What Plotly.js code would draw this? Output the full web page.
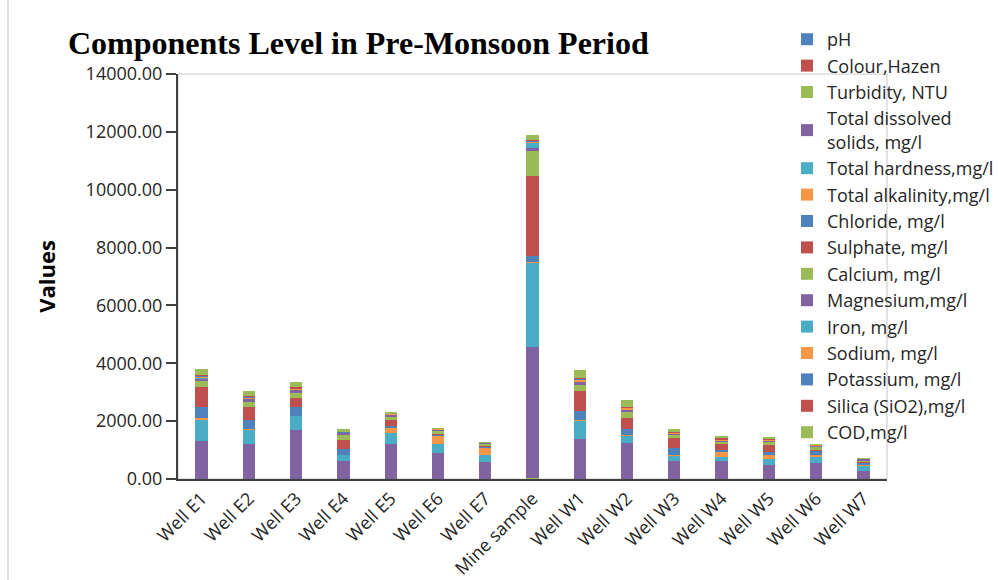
<!DOCTYPE html>
<html>
<head>
<meta charset="utf-8">
<script src="https://cdn.plot.ly/plotly-3.0.1.min.js"></script>
<style>
html,body{margin:0;padding:0;background:#fff;}
#chart{width:998px;height:580px;}
</style>
</head>
<body>
<div id="chart"></div>
<script>
const categories = ["Well E1","Well E2","Well E3","Well E4","Well E5","Well E6","Well E7","Mine sample","Well W1","Well W2","Well W3","Well W4","Well W5","Well W6","Well W7"];

const seriesNames = ["pH","Colour,Hazen","Turbidity, NTU","Total dissolved<br>solids, mg/l","Total hardness,mg/l","Total alkalinity,mg/l","Chloride, mg/l","Sulphate, mg/l","Calcium, mg/l","Magnesium,mg/l","Iron, mg/l","Sodium, mg/l","Potassium, mg/l","Silica (SiO2),mg/l","COD,mg/l"];

const pH          = [7.2,7.4,7.1,7.3,7.5,7.6,7.4,6.8,7.2,7.3,7.4,7.5,7.3,7.6,7.4];
const colour      = [5,5,5,5,5,5,5,10,5,5,5,5,5,5,5];
const turbidity   = [2,3,2,1,2,2,1,8,2,3,2,1,2,1,1];
const tds         = [1300,1200,1690,600,1190,880,560,4540,1370,1230,620,600,480,540,250];
const hardness    = [720,490,460,200,390,330,260,2910,630,250,170,150,200,200,190];
const alkalinity  = [60,40,30,30,180,250,230,10,20,20,40,170,130,60,20];
const chloride    = [380,290,290,190,60,40,30,230,330,230,230,70,120,140,90];
const sulphate    = [690,450,310,330,200,50,40,2760,690,380,340,200,230,60,30];
const calcium     = [220,190,180,150,120,90,65,860,200,180,100,80,100,90,45];
const magnesium   = [90,100,90,60,50,50,30,120,100,90,50,40,40,50,40];
const iron        = [2,1,1,1,1,1,1,150,1,1,1,1,1,1,1];
const sodium      = [60,40,50,30,40,20,10,60,80,50,30,30,30,20,10];
const potassium   = [10,8,10,5,5,5,3,20,20,10,10,10,5,5,3];
const silica      = [40,30,40,20,10,10,5,20,50,40,20,40,20,10,5];
const cod         = [220,200,200,110,40,30,20,180,260,220,120,80,70,30,20];

const seriesValues = [pH,colour,turbidity,tds,hardness,alkalinity,chloride,sulphate,calcium,magnesium,iron,sodium,potassium,silica,cod];
const palette = ["#4F81BD","#C0504D","#9BBB59","#8064A2","#4BACC6","#F79646"];

const FONT = "'Open Sans', Lato, sans-serif";

const traces = seriesNames.map((name, i) => ({
  type: "bar",
  name: name,
  x: categories,
  y: seriesValues[i],
  marker: {color: palette[i % palette.length], line: {width: 0}}
}));

const L = 178, R = 111, T = 74, B = 101, W = 998, H = 580;
const pw = W - L - R, ph = H - T - B;

const layout = {
  width: W, height: H,
  margin: {l: L, r: R, t: T, b: B, pad: 0, autoexpand: false},
  paper_bgcolor: "#ffffff",
  plot_bgcolor: "#ffffff",
  barmode: "stack",
  bargap: 0.74,
  font: {family: FONT, size: 18, color: "#262626"},
  title: {
    text: "Components Level in Pre-Monsoon Period",
    font: {family: "'Liberation Serif', 'Times New Roman', serif", size: 32, weight: "bold", color: "#000000"},
    xref: "container", yref: "container",
    x: 68 / W, xanchor: "left",
    y: 1 - 43 / H, yanchor: "middle"
  },
  xaxis: {
    type: "category",
    tickangle: -45,
    showline: true, linecolor: "#404040", linewidth: 2,
    ticks: "", showgrid: false, zeroline: false,
    tickfont: {family: FONT, size: 18, color: "#262626"}
  },
  yaxis: {
    range: [0, 14000],
    dtick: 2000,
    tickformat: ".2f",
    showgrid: false, zeroline: false,
    showline: true, linecolor: "#404040", linewidth: 2,
    ticks: "outside", ticklen: 10, tickwidth: 2, tickcolor: "#404040",
    tickfont: {family: FONT, size: 18, color: "#262626"},
    title: {text: "Values", font: {family: FONT, size: 22, weight: "bold", color: "#000000"}, standoff: 24}
  },
  legend: {
    x: (787 - L) / pw, y: (H - B - 21) / ph,
    xanchor: "left", yanchor: "top",
    traceorder: "normal",
    maxheight: 560,
    bgcolor: "rgba(0,0,0,0)",
    font: {family: FONT, size: 18, color: "#262626"}
  },
  shapes: [
    {type: "rect", xref: "paper", yref: "paper", x0: 0, x1: 1, y0: 0, y1: 1,
     line: {color: "#c8c8c8", width: 1}, layer: "below"},
    {type: "line", xref: "paper", yref: "paper",
     x0: (8 - L) / pw, x1: (8 - L) / pw, y0: (H - B) / ph, y1: -B / ph,
     line: {color: "#bfbfbf", width: 1}}
  ]
};

Plotly.newPlot("chart", traces, layout, {displayModeBar: false, staticPlot: true});
</script>
</body>
</html>
